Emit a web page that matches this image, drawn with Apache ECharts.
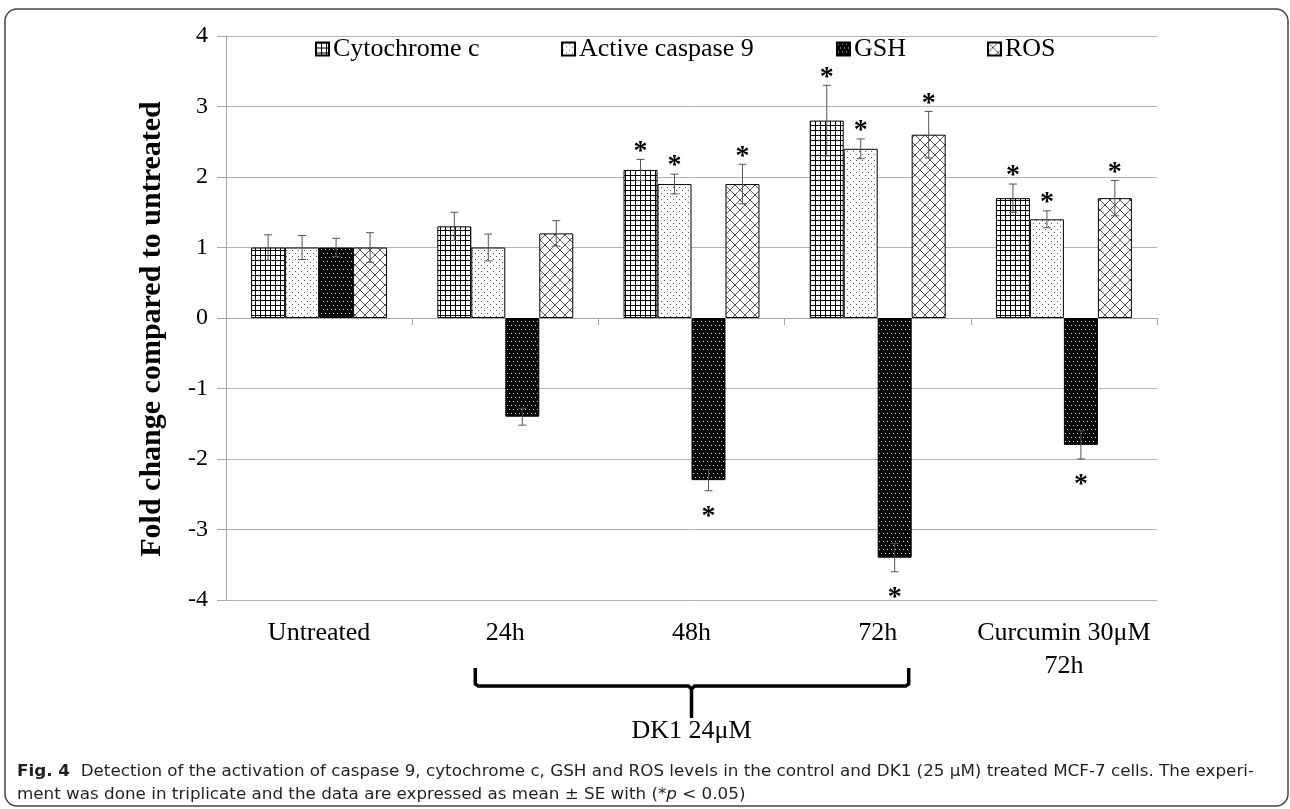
<!DOCTYPE html>
<html>
<head>
<meta charset="utf-8">
<script src="https://cdn.jsdelivr.net/npm/echarts@6/dist/echarts.min.js"></script>
<style>
html,body{margin:0;padding:0;background:#fff;}
#chart{width:1290px;height:809px;}
</style>
</head>
<body>
<div id="chart"></div>
<script>
// ---------- data ----------
const categories = ['Untreated', '24h', '48h', '72h', 'Curcumin 30μM\n72h'];
const seriesNames = ['Cytochrome c', 'Active caspase 9', 'GSH', 'ROS'];
const cytochrome    = [1.0, 1.3, 2.1, 2.8, 1.7];
const cytochromeErr = [0.18, 0.20, 0.15, 0.50, 0.20];
const caspase9      = [1.0, 1.0, 1.9, 2.4, 1.4];
const caspase9Err   = [0.17, 0.19, 0.14, 0.14, 0.12];
const gsh           = [1.0, -1.4, -2.3, -3.4, -1.8];
const gshErr        = [0.13, 0.12, 0.15, 0.20, 0.20];
const ros           = [1.0, 1.2, 1.9, 2.6, 1.7];
const rosErr        = [0.21, 0.18, 0.28, 0.33, 0.25];
const significant   = [0, 0, 1, 1, 1];   // *p < 0.05 for all four markers in these groups
const yMin = -4, yMax = 4, yStep = 1;
const bracketLabel = 'DK1 24μM';
const yAxisTitle = 'Fold change compared to untreated';
const captionBold = 'Fig. 4';
const captionLine1 = 'Detection of the activation of caspase 9, cytochrome c, GSH and ROS levels in the control and DK1 (25 μM) treated MCF-7 cells. The experi-';
const captionLine2a = 'ment was done in triplicate and the data are expressed as mean ± SE with (*';
const captionLine2b = 'p';
const captionLine2c = ' < 0.05)';

const values = [cytochrome, caspase9, gsh, ros];
const errors = [cytochromeErr, caspase9Err, gshErr, rosErr];

// ---------- styles ----------
const SERIF = '"Liberation Serif", "Times New Roman", serif';
const CAPFONT = '"Liberation Sans Narrow", "DejaVu Sans Condensed", "Open Sans", sans-serif';
const CAPSIZE = 16;
const GAP = 0.27;

function makePattern(kind) {
  const c = document.createElement('canvas');
  const g = c.getContext('2d');
  if (kind === 'grid') {
    c.width = c.height = 5;
    g.fillStyle = '#fff'; g.fillRect(0, 0, 5, 5);
    g.fillStyle = '#000'; g.fillRect(0, 0, 5, 1); g.fillRect(0, 0, 1, 5);
  } else if (kind === 'dots') {
    c.width = c.height = 6;
    g.fillStyle = '#fff'; g.fillRect(0, 0, 6, 6);
    g.fillStyle = '#555'; g.fillRect(1, 1, 1, 1); g.fillRect(4, 4, 1, 1);
  } else if (kind === 'darkdots') {
    c.width = c.height = 8;
    g.fillStyle = '#000'; g.fillRect(0, 0, 8, 8);
    g.fillStyle = '#ddd'; g.fillRect(1, 1, 1, 1); g.fillRect(5, 1, 1, 1);
    g.fillRect(3, 5, 1, 1); g.fillRect(7, 5, 1, 1);
  } else {
    c.width = c.height = 10;
    g.fillStyle = '#fff'; g.fillRect(0, 0, 10, 10);
    g.strokeStyle = '#555'; g.lineWidth = 1;
    g.beginPath(); g.moveTo(0, 0); g.lineTo(10, 10); g.moveTo(10, 0); g.lineTo(0, 10); g.stroke();
  }
  return { image: c, repeat: 'repeat' };
}
const fills = [makePattern('grid'), makePattern('dots'), makePattern('darkdots'), makePattern('cross')];
const legendLeft = [315, 561, 836, 987];

const chart = echarts.init(document.getElementById('chart'), null, { renderer: 'canvas' });

const barSeries = seriesNames.map((name, k) => ({
  name, type: 'bar',
  data: values[k],
  barGap: '0%', barCategoryGap: (GAP * 100) + '%',
  itemStyle: { color: fills[k], borderColor: '#000', borderWidth: 1 },
  emphasis: { disabled: true },
  z: 2
}));

const errSeries = seriesNames.map((name, k) => ({
  type: 'custom',
  data: values[k].map((v, i) => [i, v, errors[k][i], significant[i]]),
  z: 5, silent: true,
  renderItem: function (params, api) {
    const idx = api.value(0), v = api.value(1), e = api.value(2), sig = api.value(3);
    const band = api.size([1, 0])[0];
    const bw = band * (1 - GAP) / 4;
    const x = api.coord([idx, 0])[0] + (k - 1.5) * bw;
    const yT = api.coord([idx, v + e])[1];
    const yB = api.coord([idx, v - e])[1];
    const ls = { stroke: '#555', lineWidth: 1 };
    const ch = [
      { type: 'line', shape: { x1: x, y1: yT, x2: x, y2: yB }, style: ls },
      { type: 'line', shape: { x1: x - 4, y1: yT, x2: x + 4, y2: yT }, style: ls },
      { type: 'line', shape: { x1: x - 4, y1: yB, x2: x + 4, y2: yB }, style: ls }
    ];
    if (sig) {
      const ty = v >= 0 ? yT - 8 : yB + 26;
      ch.push({ type: 'text', style: { text: '*', x: x, y: ty, align: 'center', verticalAlign: 'middle',
        font: 'bold 28px ' + SERIF, fill: '#000' } });
    }
    return { type: 'group', children: ch };
  }
}));

const option = {
  animation: false,
  backgroundColor: '#fff',
  grid: { left: 226, right: 133, top: 36, bottom: 209 },
  legend: seriesNames.map((n, k) => ({
    data: [n], left: legendLeft[k], top: 36, padding: 0, itemWidth: 13, itemHeight: 13, itemGap: 0,
    icon: 'rect', selectedMode: false,
    textStyle: { fontFamily: SERIF, fontSize: 26, color: '#000', padding: [0, 0, 0, -1] }
  })),
  xAxis: [
    { type: 'category', data: categories, position: 'bottom',
      axisLine: { show: false, onZero: false }, axisTick: { show: false }, splitLine: { show: false },
      axisLabel: { interval: 0, margin: 17, fontFamily: SERIF, fontSize: 26, color: '#000', lineHeight: 33 } },
    { type: 'category', data: categories, position: 'top',
      axisLine: { show: true, onZero: true, lineStyle: { color: '#a6a6a6', width: 1 } },
      axisTick: { show: true, inside: true, length: 7, lineStyle: { color: '#a6a6a6' } },
      axisLabel: { show: false }, splitLine: { show: false } }
  ],
  yAxis: {
    type: 'value', min: yMin, max: yMax, interval: yStep,
    name: yAxisTitle, nameLocation: 'middle', nameGap: 59,
    nameTextStyle: { fontFamily: SERIF, fontSize: 30, fontWeight: 'bold', color: '#000', padding: [0, 22, 0, 0] },
    axisLine: { show: true, lineStyle: { color: '#a6a6a6' } },
    axisTick: { show: true, length: 9, lineStyle: { color: '#a6a6a6' } },
    splitLine: { show: true, lineStyle: { color: '#b3b3b3' } },
    axisLabel: { margin: 18, fontFamily: SERIF, fontSize: 24, color: '#000' }
  },
  series: barSeries.concat(errSeries)
};
chart.setOption(option);

// ---------- annotations ----------
const mctx = document.createElement('canvas').getContext('2d');
mctx.font = 'bold ' + CAPSIZE + 'px ' + CAPFONT;
const wBold = mctx.measureText(captionBold + '  ').width;
mctx.font = CAPSIZE + 'px ' + CAPFONT;
const w1 = wBold + mctx.measureText(captionLine1).width;
const sx = (1255 - 17) / w1;

const x24 = chart.convertToPixel({ xAxisIndex: 0 }, 1);
const x48 = chart.convertToPixel({ xAxisIndex: 0 }, 2);
const x72 = chart.convertToPixel({ xAxisIndex: 0 }, 3);
const bL = x24 - 30, bR = x72 + 31, bY = 686, bTop = 668, bStem = 718;

chart.setOption({
  graphic: [
    { type: 'rect', shape: { x: 5, y: 9, width: 1283, height: 797, r: 12 },
      style: { fill: 'none', stroke: '#444', lineWidth: 1.5 }, z: 0, silent: true },
    { type: 'polyline', shape: { points: [[bL, bTop], [bL, bY - 2], [bL + 3, bY], [x48 - 3, bY], [x48, bY + 3], [x48, bStem]] },
      style: { stroke: '#000', lineWidth: 3.5, fill: 'none', lineJoin: 'round' }, silent: true },
    { type: 'polyline', shape: { points: [[bR, bTop], [bR, bY - 2], [bR - 3, bY], [x48 + 3, bY], [x48, bY + 3]] },
      style: { stroke: '#000', lineWidth: 3.5, fill: 'none', lineJoin: 'round' }, silent: true },
    { type: 'text', style: { text: bracketLabel, x: x48, y: 731, align: 'center', verticalAlign: 'middle',
      font: '26px ' + SERIF, fill: '#000' }, silent: true },
    { type: 'text', x: 17, y: 772, scaleX: sx, scaleY: 1, silent: true,
      style: { text: '{b|' + captionBold + '}  ' + captionLine1, x: 0, y: 0, verticalAlign: 'middle',
        fontFamily: CAPFONT, fontSize: CAPSIZE, fill: '#231f20',
        rich: { b: { fontFamily: CAPFONT, fontSize: CAPSIZE, fontWeight: 'bold', fill: '#231f20' } } } },
    { type: 'text', x: 17, y: 795, scaleX: sx, scaleY: 1, silent: true,
      style: { text: captionLine2a + '{i|' + captionLine2b + '}' + captionLine2c, x: 0, y: 0, verticalAlign: 'middle',
        fontFamily: CAPFONT, fontSize: CAPSIZE, fill: '#231f20',
        rich: { i: { fontFamily: CAPFONT, fontSize: CAPSIZE, fontStyle: 'italic', fill: '#231f20' } } } }
  ]
});
</script>
</body>
</html>
